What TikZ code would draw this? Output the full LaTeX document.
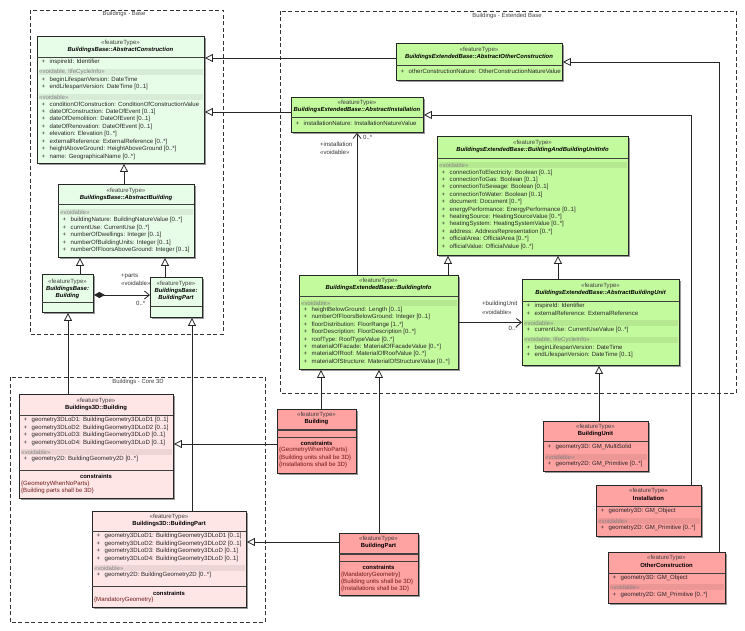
\documentclass[tikz,border=0pt]{standalone}
\usepackage{fontspec}
\setmainfont{Liberation Sans}
\usetikzlibrary{arrows.meta,shadows}

\definecolor{basegreen}{HTML}{E8FDE8}
\definecolor{extgreen}{HTML}{C4FA9E}
\definecolor{corepink}{HTML}{FFE6E6}
\definecolor{salmon}{HTML}{FFA2A2}
\definecolor{consred}{HTML}{6E1A1A}

\tikzset{
  pkg/.style={draw=black!80, line width=0.8pt, dash pattern=on 4pt off 2.5pt},
  pkgname/.style={inner sep=0pt, font=\fontsize{5.9}{7}\selectfont, text=black!75},
  cls/.style={draw=black!85, line width=0.9pt, inner sep=0pt, anchor=north west,
    drop shadow={shadow xshift=1.6pt, shadow yshift=-1.6pt, fill=black!40, opacity=1}},
  txt/.style={inner sep=0pt, font=\fontsize{6.05}{7}\selectfont},
  ster/.style={txt, text=black!75},
  cname/.style={txt, font=\fontsize{5.9}{7}\selectfont\bfseries\itshape},
  pname/.style={txt, font=\fontsize{5.9}{7}\selectfont\bfseries},
  attr/.style={txt, anchor=west, text=black!85},
  cons/.style={txt, anchor=west, text=consred},
  band/.style={fill=black, fill opacity=0.07},
  bandtxt/.style={txt, anchor=west, text=black!50},
  sep/.style={draw=black!75, line width=0.8pt},
  lbl/.style={txt, anchor=west, text=black!80},
  gen/.style={draw=black!85, line width=0.8pt, -{Triangle[open, length=8pt, width=8pt]}},
  assoc/.style={draw=black!85, line width=0.8pt, -{Straight Barb[length=5pt, width=8pt]}},
  comp/.style={draw=black!85, line width=0.8pt, {Diamond[length=11pt, width=6pt]}-{Straight Barb[length=5pt, width=8pt]}}
}

\newcommand\clsbox[6]{\node[cls, fill=#6, minimum width=#4pt-#2pt, minimum height=#5pt-#3pt] (#1) at (#2,#3) {};}
\newcommand\hdr[5]{\node[ster] (#1-st) at (#2,#3) {«featureType»}; \node[#5] (#1-nm) at (#2,#3+7) {#4};}
\newcommand\sepl[3]{\draw[sep] (#1,#3) -- (#2,#3);}
\newcommand\band[5]{\fill[band] (#2+1.5,#4-3.3) rectangle (#3-1.5,#4+3.3); \node[bandtxt] (#1) at (#2+2,#4) {#5};}
\newcommand\attrs[5]{\foreach \t [count=\i from 0] in {#5} \node[attr] (#1-\i) at (#2+4.5,#3+#4*\i) {+\hspace{4.5pt}\t};}

\begin{document}
\begin{tikzpicture}[x=1pt, y=-1pt]
\useasboundingbox (0,0) rectangle (745,631);

% packages
\draw[pkg] (30,10) rectangle (223,334);
\node[pkgname] (p-base) at (124,14) {Buildings - Base};
\draw[pkg] (280,11) rectangle (736,393);
\node[pkgname] (p-ext) at (507,16) {Buildings - Extended Base};
\draw[pkg] (10,377) rectangle (265,622);
\node[pkgname] (p-core) at (138,382) {Buildings - Core 3D};

% Buildings - Base
\clsbox{ac}{37}{36}{204}{163}{basegreen}
\hdr{ac}{120.5}{43}{BuildingsBase::AbstractConstruction}{cname}
\sepl{37}{204}{57}
\attrs{ac-a}{37}{62}{7.5}{{inspireId: Identifier}}
\band{ac-b1}{37}{204}{72}{«voidable, lifeCycleInfo»}
\attrs{ac-c}{37}{80}{7.3}{{beginLifespanVersion: DateTime},{endLifespanVersion: DateTime [0..1]}}
\band{ac-b2}{37}{204}{97}{«voidable»}
\attrs{ac-d}{37}{104}{7.5}{{conditionOfConstruction: ConditionOfConstructionValue},{dateOfConstruction: DateOfEvent [0..1]},{dateOfDemolition: DateOfEvent [0..1]},{dateOfRenovation: DateOfEvent [0..1]},{elevation: Elevation [0..*]},{externalReference: ExternalReference [0..*]},{heightAboveGround: HeightAboveGround [0..*]},{name: GeographicalName [0..*]}}

\clsbox{ab}{58}{184}{194}{257}{basegreen}
\hdr{ab}{126}{191}{BuildingsBase::AbstractBuilding}{cname}
\sepl{58}{194}{204}
\band{ab-b1}{58}{194}{212}{«voidable»}
\attrs{ab-a}{58}{220}{7.5}{{buildingNature: BuildingNatureValue [0..*]},{currentUse: CurrentUse [0..*]},{numberOfDwellings: Integer [0..1]},{numberOfBuildingUnits: Integer [0..1]},{numberOfFloorsAboveGround: Integer [0..1]}}

\clsbox{bb}{42}{274}{93}{312}{basegreen}
\node[ster] (bb-st) at (67.5,282) {«featureType»};
\node[cname] (bb-nm1) at (67.5,289) {BuildingsBase:};
\node[cname] (bb-nm2) at (67.5,296) {Building};
\sepl{42}{93}{302}

\clsbox{bp}{150}{277}{202}{317}{basegreen}
\node[ster] (bp-st) at (176,284) {«featureType»};
\node[cname] (bp-nm1) at (176,291) {BuildingsBase:};
\node[cname] (bp-nm2) at (176,298) {BuildingPart};
\sepl{150}{202}{306}

% Buildings - Extended Base
\clsbox{aoc}{396}{43}{562}{80}{extgreen}
\hdr{aoc}{479}{50}{BuildingsExtendedBase::AbstractOtherConstruction}{cname}
\sepl{396}{562}{65}
\attrs{aoc-a}{396}{71}{7.5}{{otherConstructionNature: OtherConstructionNatureValue}}

\clsbox{ai}{291}{97}{423}{132}{extgreen}
\hdr{ai}{357}{103}{BuildingsExtendedBase::AbstractInstallation}{cname}
\sepl{291}{423}{117}
\attrs{ai-a}{291}{123}{7.5}{{installationNature: InstallationNatureValue}}

\clsbox{bbui}{437}{136}{628}{255}{extgreen}
\hdr{bbui}{532.5}{143}{BuildingsExtendedBase::BuildingAndBuildingUnitInfo}{cname}
\sepl{437}{628}{158}
\band{bbui-b1}{437}{628}{165}{«voidable»}
\attrs{bbui-a}{437}{172.5}{7.4}{{connectionToElectricity: Boolean [0..1]},{connectionToGas: Boolean [0..1]},{connectionToSewage: Boolean [0..1]},{connectionToWater: Boolean [0..1]},{document: Document [0..*]},{energyPerformance: EnergyPerformance [0..1]},{heatingSource: HeatingSourceValue [0..*]},{heatingSystem: HeatingSystemValue [0..*]},{address: AddressRepresentation [0..*]},{officialArea: OfficialArea [0..*]},{officialValue: OfficialValue [0..*]}}

\clsbox{bi}{299}{275}{458}{369}{extgreen}
\hdr{bi}{378.5}{281}{BuildingsExtendedBase::BuildingInfo}{cname}
\sepl{299}{458}{296}
\band{bi-b1}{299}{458}{303}{«voidable»}
\attrs{bi-a}{299}{310}{7.4}{{heightBelowGround: Length [0..1]},{numberOfFloorsBelowGround: Integer [0..1]},{floorDistribution: FloorRange [1..*]},{floorDescription: FloorDescription [0..*]},{roofType: RoofTypeValue [0..*]},{materialOfFacade: MaterialOfFacadeValue [0..*]},{materialOfRoof: MaterialOfRoofValue [0..*]},{materialOfStructure: MaterialOfStructureValue [0..*]}}

\clsbox{abu}{522}{279}{679}{365}{extgreen}
\hdr{abu}{600.5}{286}{BuildingsExtendedBase::AbstractBuildingUnit}{cname}
\sepl{522}{679}{301}
\attrs{abu-a}{522}{306}{7.3}{{inspireId: Identifier},{externalReference: ExternalReference}}
\band{abu-b1}{522}{679}{323}{«voidable»}
\attrs{abu-c}{522}{330}{7.4}{{currentUse: CurrentUseValue [0..*]}}
\band{abu-b2}{522}{679}{340}{«voidable, lifeCycleInfo»}
\attrs{abu-d}{522}{348}{7.3}{{beginLifespanVersion: DateTime},{endLifespanVersion: DateTime [0..1]}}

% Buildings - Core 3D
\clsbox{b3}{19}{394}{173}{498}{corepink}
\hdr{b3}{96}{401}{Buildings3D::Building}{pname}
\sepl{19}{173}{415}
\attrs{b3-a}{19}{420}{7.6}{{geometry3DLoD1: BuildingGeometry3DLoD1 [0..1]},{geometry3DLoD2: BuildingGeometry3DLoD2 [0..1]},{geometry3DLoD3: BuildingGeometry3DLoD [0..1]},{geometry3DLoD4: BuildingGeometry3DLoD [0..1]}}
\band{b3-b1}{19}{173}{452}{«voidable»}
\attrs{b3-c}{19}{459}{7.5}{{geometry2D: BuildingGeometry2D [0..*]}}
\sepl{19}{173}{470}
\node[pname] (b3-ct) at (96,476) {constraints};
\node[cons] (b3-c1) at (21,484) {\{GeometryWhenNoParts\}};
\node[cons] (b3-c2) at (21,491) {\{Building parts shall be 3D\}};

\clsbox{bp3}{92}{511}{246}{607}{corepink}
\hdr{bp3}{169}{517}{Buildings3D::BuildingPart}{pname}
\sepl{92}{246}{531}
\attrs{bp3-a}{92}{536}{7.6}{{geometry3DLoD1: BuildingGeometry3DLoD1 [0..1]},{geometry3DLoD2: BuildingGeometry3DLoD2 [0..1]},{geometry3DLoD3: BuildingGeometry3DLoD [0..1]},{geometry3DLoD4: BuildingGeometry3DLoD [0..1]}}
\band{bp3-b1}{92}{246}{568}{«voidable»}
\attrs{bp3-c}{92}{575}{7.5}{{geometry2D: BuildingGeometry2D [0..*]}}
\sepl{92}{246}{586}
\node[pname] (bp3-ct) at (169,593) {constraints};
\node[cons] (bp3-c1) at (94,600) {\{MandatoryGeometry\}};

% feature types
\clsbox{pb}{277}{409}{356}{473}{salmon}
\hdr{pb}{316.5}{415}{Building}{pname}
\draw[sep, line width=1.6pt] (277,430) -- (356,430);
\sepl{277}{356}{437}
\node[pname] (pb-ct) at (316.5,443) {constraints};
\node[cons] (pb-c1) at (279,450) {\{GeometryWhenNoParts\}};
\node[cons] (pb-c2) at (279,458) {\{Building units shall be 3D\}};
\node[cons] (pb-c3) at (279,465) {\{Installations shall be 3D\}};

\clsbox{pbp}{339}{533}{418}{595}{salmon}
\hdr{pbp}{378.5}{539}{BuildingPart}{pname}
\draw[sep, line width=1.6pt] (339,554) -- (418,554);
\sepl{339}{418}{561}
\node[pname] (pbp-ct) at (378.5,567) {constraints};
\node[cons] (pbp-c1) at (341,575) {\{MandatoryGeometry\}};
\node[cons] (pbp-c2) at (341,582) {\{Building units shall be 3D\}};
\node[cons] (pbp-c3) at (341,589) {\{Installations shall be 3D\}};

\clsbox{pbu}{543}{421}{648}{471}{salmon}
\hdr{pbu}{595.5}{427}{BuildingUnit}{pname}
\sepl{543}{648}{441}
\attrs{pbu-a}{543}{447}{7.5}{{geometry3D: GM\_MultiSolid}}
\band{pbu-b1}{543}{648}{457}{«voidable»}
\attrs{pbu-c}{543}{464}{7.5}{{geometry2D: GM\_Primitive [0..*]}}

\clsbox{pin}{596}{485}{701}{536}{salmon}
\hdr{pin}{648.5}{491}{Installation}{pname}
\sepl{596}{701}{506}
\attrs{pin-a}{596}{511}{7.5}{{geometry3D: GM\_Object}}
\band{pin-b1}{596}{701}{521}{«voidable»}
\attrs{pin-c}{596}{528}{7.5}{{geometry2D: GM\_Primitive [0..*]}}

\clsbox{poc}{608}{552}{725}{603}{salmon}
\hdr{poc}{666.5}{558}{OtherConstruction}{pname}
\sepl{608}{725}{573}
\attrs{poc-a}{608}{578}{7.5}{{geometry3D: GM\_Object}}
\band{poc-b1}{608}{725}{587}{«voidable»}
\attrs{poc-c}{608}{595}{7.5}{{geometry2D: GM\_Primitive [0..*]}}

% connectors
\draw[gen] (ab.north -| 124,0) -- (ac.south -| 124,0);
\draw[gen] (bb.north -| 80,0) -- (ab.south -| 80,0);
\draw[gen] (bp.north -| 165,0) -- (ab.south -| 165,0);
\draw[comp] (bb.east |- 0,295) -- (bp.west |- 0,295);
\draw[gen] (aoc.west |- 0,58) -- (ac.east |- 0,58);
\draw[gen] (ai.west |- 0,112) -- (ac.east |- 0,112);
\draw[gen] (poc.north -| 719,0) |- (aoc.east);
\draw[gen] (pin.north -| 691,0) |- (ai.east);
\draw[assoc] (bi.north -| 357,0) -- (ai.south -| 357,0);
\draw[gen] (bi.north -| 448,0) -- (bbui.south -| 448,0);
\draw[gen] (abu.north -| 558,0) -- (bbui.south -| 558,0);
\draw[assoc] (bi.east) -- (abu.west);
\draw[gen] (pbu.north -| 599,0) -- (abu.south -| 599,0);
\draw[gen] (pb.north -| 321,0) -- (bi.south -| 321,0);
\draw[gen] (pbp.north) -- (pbp.north |- bi.south);
\draw[gen] (pb.west |- 0,444) -- (b3.east |- 0,444);
\draw[gen] (pbp.west |- 0,542) -- (bp3.east |- 0,542);
\draw[gen] (b3.north -| 68,0) -- (bb.south -| 68,0);
\draw[gen] (bp3.north -| 192,0) -- (bp.south -| 192,0);

\node[lbl] (l-parts) at (121,276) {+parts};
\node[lbl] (l-partsv) at (121,283) {«voidable»};
\node[lbl] (l-partsm) at (136,303) {0..*};
\node[lbl] (l-inst) at (320,144) {+installation};
\node[lbl] (l-instv) at (320,152) {«voidable»};
\node[lbl] (l-instm) at (363,137) {0..*};
\node[lbl] (l-unit) at (482,304) {+buildingUnit};
\node[lbl] (l-unitv) at (482,312) {«voidable»};
\node[lbl, anchor=east] (l-unitm) at (518,328) {0..*};
\end{tikzpicture}
\end{document}
